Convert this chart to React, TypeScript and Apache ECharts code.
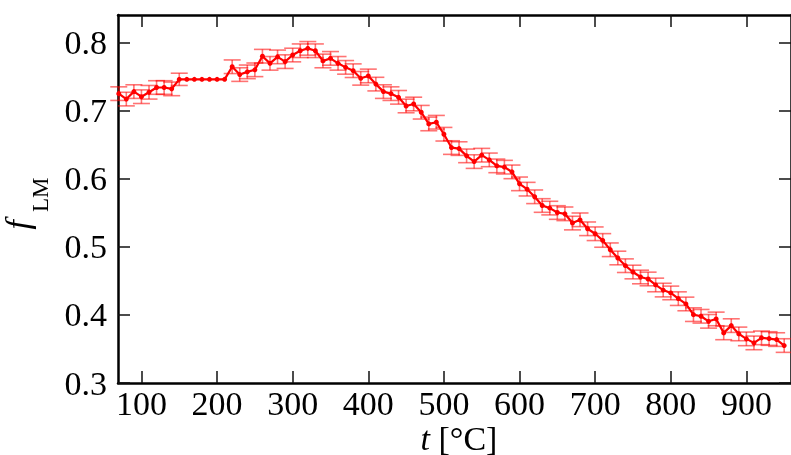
import React, { useEffect, useRef } from "react";
import * as echarts from "echarts";

const temperatures = [
  70, 80, 90, 100, 110, 120, 130, 140, 150, 160, 170, 180, 190, 200, 210, 220, 230, 240, 250, 260,
  270, 280, 290, 300, 310, 320, 330, 340, 350, 360, 370, 380, 390, 400, 410, 420, 430, 440, 450, 460,
  470, 480, 490, 500, 510, 520, 530, 540, 550, 560, 570, 580, 590, 600, 610, 620, 630, 640, 650, 660,
  670, 680, 690, 700, 710, 720, 730, 740, 750, 760, 770, 780, 790, 800, 810, 820, 830, 840, 850, 860,
  870, 880, 890, 900, 910, 920, 930, 940, 950,
];

const fLM = [
  0.725, 0.717, 0.728, 0.7205, 0.727, 0.734, 0.734, 0.732, 0.746, 0.746, 0.746, 0.746, 0.746, 0.746, 0.746, 0.7645, 0.753, 0.757, 0.76, 0.78,
  0.7695, 0.779, 0.772, 0.7817, 0.788, 0.7915, 0.788, 0.773, 0.7768, 0.7695, 0.7636, 0.7587, 0.7475, 0.751, 0.739, 0.728, 0.725, 0.7196, 0.7069, 0.7098,
  0.6977, 0.6805, 0.683, 0.6654, 0.6458, 0.6443, 0.6336, 0.6252, 0.6346, 0.6277, 0.6189, 0.617, 0.6101, 0.5925, 0.5847, 0.5735, 0.5607, 0.5569, 0.5504, 0.5485,
  0.5349, 0.5397, 0.5265, 0.5192, 0.5094, 0.4957, 0.4836, 0.4723, 0.463, 0.4557, 0.4528, 0.444, 0.4365, 0.4323, 0.4239, 0.4161, 0.4004, 0.398, 0.3906, 0.3941,
  0.3736, 0.3843, 0.3721, 0.3648, 0.3589, 0.3663, 0.3653, 0.3638, 0.355,
];

const fLMErr = [
  0.01, 0.01, 0.01, 0.01, 0.01, 0.01, 0.01, 0.01, 0.009, 0, 0, 0, 0, 0, 0, 0.01, 0.01, 0.01, 0.01, 0.01,
  0.01, 0.01, 0.01, 0.01, 0.01, 0.01, 0.01, 0.01, 0.01, 0.01, 0.01, 0.01, 0.01, 0.01, 0.01, 0.01, 0.01, 0.01, 0.01, 0.01,
  0.01, 0.01, 0.01, 0.01, 0.01, 0.01, 0.01, 0.01, 0.01, 0.01, 0.01, 0.01, 0.01, 0.01, 0.01, 0.01, 0.01, 0.01, 0.01, 0.01,
  0.01, 0.01, 0.01, 0.01, 0.01, 0.01, 0.01, 0.01, 0.01, 0.01, 0.01, 0.01, 0.01, 0.01, 0.01, 0.01, 0.01, 0.01, 0.01, 0.01,
  0.01, 0.01, 0.01, 0.01, 0.01, 0.01, 0.01, 0.01, 0.01,
];

const xTicks = [100, 200, 300, 400, 500, 600, 700, 800, 900];
const yTicks = [0.3, 0.4, 0.5, 0.6, 0.7, 0.8];

const FONT = "'Liberation Serif', 'Times New Roman', serif";

export default function App() {
  const ref = useRef<HTMLDivElement>(null);

  useEffect(() => {
    const chart = echarts.init(ref.current as HTMLDivElement, null, { renderer: "svg" });
    const lineData = temperatures.map((t, i) => [t, fLM[i]]);
    const errData = temperatures.map((t, i) => [t, fLM[i], fLMErr[i]]);

    const lineStyle = { color: "#000", width: 2.5 };
    const tickStyle = { color: "#111", width: 1.5 };
    const labelFont = { fontSize: 34, fontFamily: FONT, color: "#000" };

    const xBase = {
      type: "value",
      min: 69,
      max: 959,
      splitLine: { show: false },
      axisLine: { show: true, onZero: false, lineStyle },
      axisTick: { show: true, inside: true, length: 12, customValues: xTicks, lineStyle: tickStyle },
    };
    const yBase = {
      type: "value",
      min: 0.3,
      max: 0.8405,
      splitLine: { show: false },
      axisLine: { show: true, onZero: false, lineStyle },
      axisTick: { show: true, inside: true, length: 12, customValues: yTicks, lineStyle: tickStyle },
    };

    chart.setOption({
      animation: false,
      grid: { left: 118, top: 15, right: -8, bottom: 72, containLabel: false },
      xAxis: [
        { ...xBase, position: "bottom", axisLabel: { ...labelFont, customValues: xTicks, margin: 3 } },
        { ...xBase, position: "top", axisLabel: { show: false } },
      ],
      yAxis: [
        {
          ...yBase,
          position: "left",
          axisLabel: { ...labelFont, customValues: yTicks, margin: 11, formatter: (v: number) => v.toFixed(1) },
        },
        { ...yBase, position: "right", axisLabel: { show: false } },
      ],
      series: [
        {
          type: "custom",
          xAxisIndex: 0,
          yAxisIndex: 0,
          data: errData,
          z: 1,
          renderItem: (params: any, api: any) => {
            const x = api.value(0);
            const y = api.value(1);
            const e = api.value(2);
            if (!e) return null;
            const top = api.coord([x, y + e]);
            const bot = api.coord([x, y - e]);
            const hw = 8.5;
            const style = { stroke: "rgba(255,0,0,0.55)", lineWidth: 1.6, fill: "none" };
            return {
              type: "group",
              children: [
                { type: "line", shape: { x1: top[0], y1: top[1], x2: bot[0], y2: bot[1] }, style },
                { type: "line", shape: { x1: top[0] - hw, y1: top[1], x2: top[0] + hw, y2: top[1] }, style },
                { type: "line", shape: { x1: bot[0] - hw, y1: bot[1], x2: bot[0] + hw, y2: bot[1] }, style },
              ],
            };
          },
        },
        {
          type: "line",
          xAxisIndex: 0,
          yAxisIndex: 0,
          data: lineData,
          z: 3,
          symbol: "circle",
          symbolSize: 5,
          showSymbol: true,
          itemStyle: { color: "#ff0000" },
          lineStyle: { color: "#ff0000", width: 2.2 },
        },
      ],
      graphic: [
        {
          type: "text",
          x: 459,
          y: 438,
          style: {
            text: "{i|t} [°C]",
            fontSize: 34,
            fontFamily: FONT,
            fill: "#000",
            align: "center",
            verticalAlign: "middle",
            rich: {
              i: { fontStyle: "italic", fontSize: 34, fontFamily: FONT, fill: "#000" },
            },
          },
        },
        {
          type: "group",
          x: 33,
          y: 207,
          rotation: Math.PI / 2,
          children: [
            {
              type: "text",
              x: -13,
              y: -16,
              style: {
                text: "f",
                fontStyle: "italic",
                fontSize: 34,
                fontFamily: FONT,
                fill: "#000",
                align: "right",
                verticalAlign: "middle",
              },
            },
            {
              type: "text",
              x: -5,
              y: 7,
              style: {
                text: "LM",
                fontSize: 23,
                fontFamily: FONT,
                fill: "#000",
                align: "left",
                verticalAlign: "middle",
              },
            },
          ],
        },
      ],
    });

    return () => chart.dispose();
  }, []);

  return <div ref={ref} style={{ position: "fixed", left: 0, top: 0, width: 791, height: 455 }} />;
}
